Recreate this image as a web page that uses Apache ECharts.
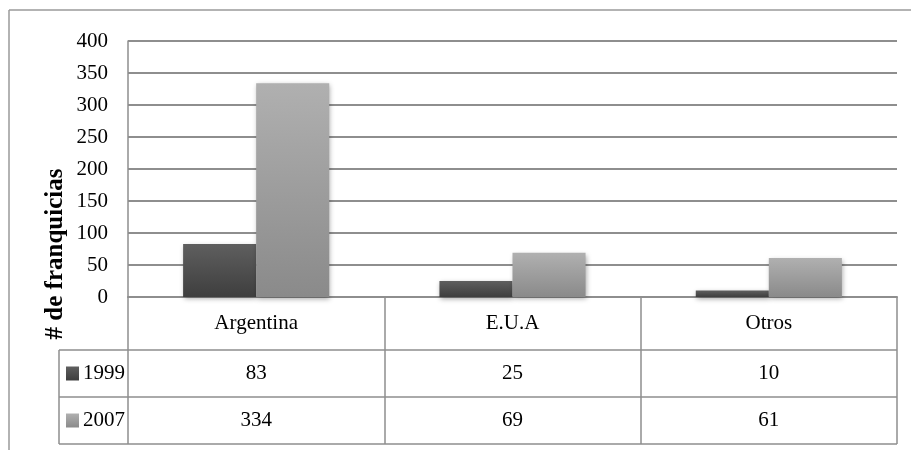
<!DOCTYPE html>
<html>
<head>
<meta charset="utf-8">
<script src="https://cdn.jsdelivr.net/npm/echarts@6/dist/echarts.min.js"></script>
<style>
  html, body { margin: 0; padding: 0; background: #fff; }
  #chart { width: 911px; height: 450px; }
</style>
</head>
<body>
<div id="chart"></div>
<script>
// Franchise counts per origin, 1999 vs 2007
const categories = ['Argentina', 'E.U.A', 'Otros'];
const seriesNames = ['1999', '2007'];
const values1999 = [83, 25, 10];
const values2007 = [334, 69, 61];
const yTicks = [0, 50, 100, 150, 200, 250, 300, 350, 400];

const FONT = '"Liberation Serif", "DejaVu Serif", serif';
const LINE = '#8e8e8e';

// plot frame (px)
const G = { left: 128, right: 14, top: 41, bottom: 153 };
const W = 911, H = 450;
const axisY = H - G.bottom;          // 297
const rightX = W - G.right;          // 897
const row1 = axisY + 53;             // header row bottom
const row2 = row1 + 47;
const row3 = row2 + 47;
const legendLeft = 59;

const darkFill = new echarts.graphic.LinearGradient(0, 0, 0, 1, [
  { offset: 0, color: '#5f5f5f' }, { offset: 1, color: '#3e3e3e' }
]);
const lightFill = new echarts.graphic.LinearGradient(0, 0, 0, 1, [
  { offset: 0, color: '#b0b0b0' }, { offset: 1, color: '#8a8a8a' }
]);

const chart = echarts.init(document.getElementById('chart'), null, { renderer: 'canvas' });

const hLine = (x1, y, x2) => ({
  type: 'line', silent: true, z: 10,
  shape: { x1: x1, y1: y, x2: x2, y2: y },
  style: { stroke: LINE, lineWidth: 1.5 }
});
const vLine = (x, y1, y2) => ({
  type: 'line', silent: true, z: 10,
  shape: { x1: x, y1: y1, x2: x, y2: y2 },
  style: { stroke: LINE, lineWidth: 1.5 }
});

const legendFor = (name, top) => ({
  data: [name], orient: 'vertical', left: 64, top: top,
  itemWidth: 13, itemHeight: 14, itemGap: 4, selectedMode: false,
  icon: 'rect', padding: 2,
  textStyle: { fontFamily: FONT, fontSize: 21, color: '#000', padding: [0, 0, 0, -1] }
});

chart.setOption({
  animation: false,
  backgroundColor: '#fff',
  grid: { left: G.left, right: G.right, top: G.top, bottom: G.bottom, containLabel: false },
  legend: [legendFor(seriesNames[0], 361), legendFor(seriesNames[1], 408)],
  xAxis: {
    type: 'category',
    data: categories,
    boundaryGap: true,
    axisLine: { show: true, lineStyle: { color: LINE, width: 2 } },
    axisTick: { show: true, inside: false, length: row3 - axisY, lineStyle: { color: LINE, width: 1.5 } },
    axisLabel: {
      margin: 0,
      interval: 0,
      formatter: (value, idx) => `{h|${value}}\n{v|${values1999[idx]}}\n{v|${values2007[idx]}}`,
      rich: {
        h: { fontFamily: FONT, fontSize: 21, color: '#000', lineHeight: 53 },
        v: { fontFamily: FONT, fontSize: 21, color: '#000', lineHeight: 47 }
      }
    }
  },
  yAxis: {
    type: 'value',
    min: yTicks[0],
    max: yTicks[yTicks.length - 1],
    interval: yTicks[1] - yTicks[0],
    axisLine: { show: true, lineStyle: { color: LINE, width: 1.5 } },
    axisTick: { show: false },
    axisLabel: { margin: 20, fontFamily: FONT, fontSize: 21, color: '#000' },
    splitLine: { show: true, lineStyle: { color: LINE, width: 2 } }
  },
  series: [
    {
      name: seriesNames[0], type: 'bar', data: values1999,
      barGap: '0%', barCategoryGap: '43%',
      itemStyle: { color: darkFill, shadowBlur: 5, shadowColor: 'rgba(0,0,0,0.35)', shadowOffsetX: 1, shadowOffsetY: 2 }
    },
    {
      name: seriesNames[1], type: 'bar', data: values2007,
      barGap: '0%', barCategoryGap: '43%',
      itemStyle: { color: lightFill, shadowBlur: 5, shadowColor: 'rgba(0,0,0,0.35)', shadowOffsetX: 1, shadowOffsetY: 2 }
    }
  ],
  graphic: [
    // outer frame (top and left edges)
    { type: 'line', silent: true, shape: { x1: 9, y1: 10, x2: W, y2: 10 }, style: { stroke: '#9a9a9a', lineWidth: 1.5 } },
    { type: 'line', silent: true, shape: { x1: 9, y1: 10, x2: 9, y2: H }, style: { stroke: '#9a9a9a', lineWidth: 1.5 } },
    // data table rows
    hLine(legendLeft, row1, rightX),
    hLine(legendLeft, row2, rightX),
    hLine(legendLeft, row3, rightX),
    vLine(legendLeft, row1, row3),
    // axis title
    {
      type: 'text', silent: true,
      x: 56, y: 254, rotation: Math.PI / 2,
      style: {
        text: '# de franquicias',
        font: 'bold 25px ' + FONT,
        fill: '#000',
        align: 'center',
        verticalAlign: 'middle'
      }
    }
  ]
});
</script>
</body>
</html>
